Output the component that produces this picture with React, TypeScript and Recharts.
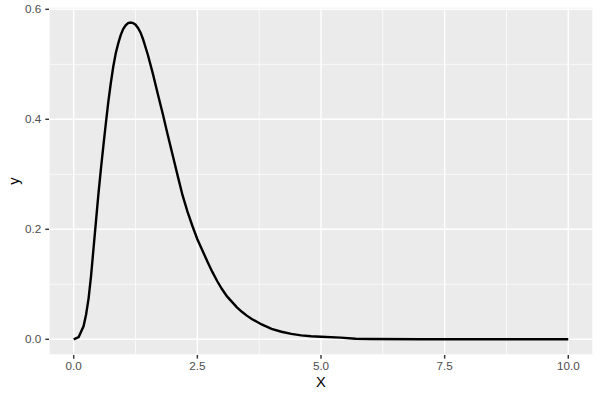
import React from 'react';
import { LineChart, Line, XAxis, YAxis, CartesianGrid, ReferenceLine, Label } from 'recharts';

const xValues = [
  0, 0.1, 0.2, 0.25, 0.3, 0.35, 0.4, 0.45, 0.5, 0.55, 0.6, 0.65, 0.7, 0.75, 0.8, 0.85, 0.9, 0.95,
  1.0, 1.05, 1.1, 1.15, 1.2, 1.25, 1.3, 1.35, 1.4, 1.5, 1.6, 1.7, 1.8, 1.9, 2.0, 2.1, 2.2, 2.3,
  2.4, 2.5, 2.6, 2.7, 2.8, 2.9, 3.0, 3.1, 3.2, 3.3, 3.4, 3.5, 3.6, 3.8, 4.0, 4.2, 4.4, 4.6, 4.8,
  5.0, 5.4, 5.7, 6.0, 7.0, 8.0, 9.0, 10.0,
];
const yValues = [
  0, 0.004, 0.024, 0.045, 0.074, 0.115, 0.165, 0.215, 0.265, 0.31, 0.352, 0.393, 0.432, 0.466, 0.496, 0.52, 0.538, 0.553,
  0.564, 0.571, 0.575, 0.576, 0.575, 0.572, 0.566, 0.558, 0.546, 0.517, 0.483, 0.446, 0.41, 0.372, 0.335, 0.298, 0.262, 0.232,
  0.206, 0.182, 0.162, 0.142, 0.123, 0.106, 0.091, 0.078, 0.068, 0.058, 0.05, 0.043, 0.037, 0.027, 0.019, 0.0137, 0.0098, 0.0072, 0.0055,
  0.0045, 0.003, 0.001, 0.0005, 0, 0, 0, 0,
];
const xTicks = [0, 2.5, 5, 7.5, 10];
const yTicks = [0, 0.2, 0.4, 0.6];
const xMinor = [1.25, 3.75, 6.25, 8.75];
const yMinor = [0.1, 0.3, 0.5];

const data = xValues.map((x, i) => ({ x, y: yValues[i] }));

const YTitle = (props: any) => {
  const vb = props.viewBox || { x: 0, y: 7, width: 49, height: 348 };
  const cx = vb.x + 18.5;
  const cy = vb.y + vb.height / 2;
  return (
    <text x={cx} y={cy} transform={`rotate(-90 ${cx} ${cy})`} textAnchor="middle" fontSize={14.7} fill="#000000">
      y
    </text>
  );
};

export default function App() {
  return (
    <div style={{ position: 'absolute', left: 0, top: 0, width: 600, height: 400, background: '#ffffff' }}>
      <LineChart
        width={600}
        height={400}
        data={data}
        margin={{ top: 7, right: 7, bottom: 0, left: 0 }}
        style={{ fontFamily: '"Liberation Sans", Arial, sans-serif' }}
      >
        <CartesianGrid fill="#EBEBEB" stroke="#FFFFFF" strokeWidth={1.42} />
        {xMinor.map((v) => (
          <ReferenceLine key={'xm' + v} x={v} stroke="#FFFFFF" strokeWidth={0.71} />
        ))}
        {yMinor.map((v) => (
          <ReferenceLine key={'ym' + v} y={v} stroke="#FFFFFF" strokeWidth={0.71} />
        ))}
        <XAxis
          dataKey="x"
          type="number"
          domain={[-0.5, 10.5]}
          ticks={xTicks}
          allowDataOverflow
          tickFormatter={(v: number) => v.toFixed(1)}
          height={45}
          tickSize={3.67}
          tickMargin={2.9}
          axisLine={false}
          tickLine={{ stroke: '#333333', strokeWidth: 1.42 }}
          tick={{ fill: '#4D4D4D', fontSize: 11.7 }}
        >
          <Label value="X" position="insideBottom" offset={12.7} fill="#000000" fontSize={14.7} />
        </XAxis>
        <YAxis
          type="number"
          domain={[-0.02855, 0.6042]}
          ticks={yTicks}
          allowDataOverflow
          tickFormatter={(v: number) => v.toFixed(1)}
          width={49}
          tickSize={3.67}
          tickMargin={4}
          axisLine={false}
          tickLine={{ stroke: '#333333', strokeWidth: 1.42 }}
          tick={{ fill: '#4D4D4D', fontSize: 11.7 }}
        >
          <Label content={YTitle} />
        </YAxis>
        <Line
          type="linear"
          dataKey="y"
          stroke="#000000"
          strokeWidth={2.4}
          dot={false}
          isAnimationActive={false}
        />
      </LineChart>
    </div>
  );
}
